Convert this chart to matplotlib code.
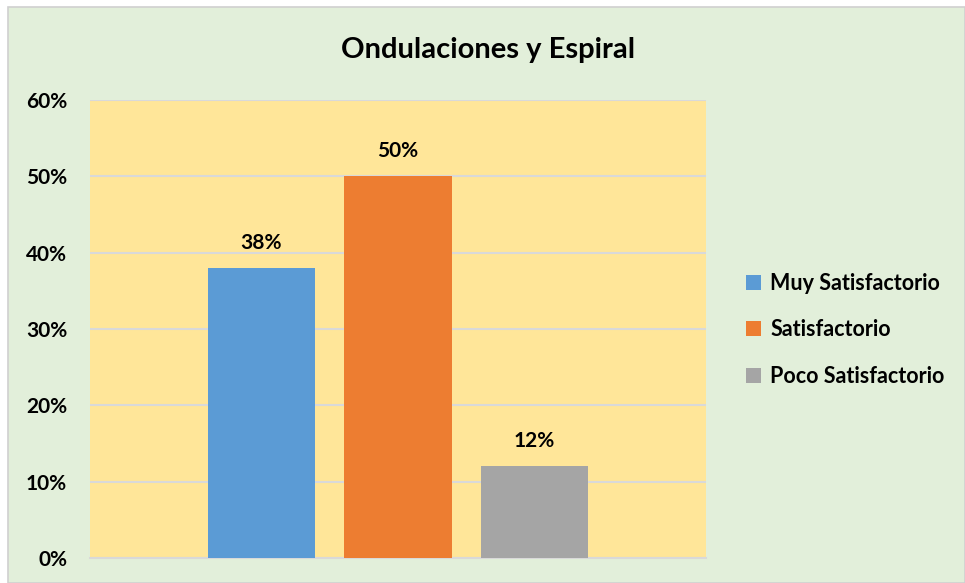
import matplotlib.pyplot as plt
from matplotlib.patches import Rectangle

series = ["Muy Satisfactorio", "Satisfactorio", "Poco Satisfactorio"]
values = [0.38, 0.50, 0.12]
colors = ["#5B9BD5", "#ED7D31", "#A5A5A5"]
yticks = [0, 0.1, 0.2, 0.3, 0.4, 0.5, 0.6]

plt.rcParams["font.family"] = ["Lato", "DejaVu Sans"]
plt.rcParams["font.weight"] = "bold"

fig = plt.figure(figsize=(9.65, 5.83), dpi=100)
fig.patch.set_facecolor("white")
# chart area with light border
fig.patches.append(Rectangle((8 / 965, 0), 1 - 8 / 965, 1 - 7 / 583,
                             transform=fig.transFigure, facecolor="#E2EFDA",
                             edgecolor="#D0D0D0", linewidth=1.2, zorder=-10))

ax = fig.add_axes([90 / 965, 1 - 558 / 583, 616 / 965, 458 / 583])
ax.set_facecolor("#FFE699")

xs = [-1, 0, 1]
bars = ax.bar(xs, values, width=0.79, color=colors, label=series, zorder=3)
for x, v in zip(xs, values):
    ax.text(x, v + 0.02, f"{v:.0%}", ha="center", va="bottom",
            fontsize=15, fontweight="bold")

ax.set_xlim(-2.256, 2.256)
ax.set_ylim(0, 0.6)
ax.set_yticks(yticks)
ax.set_yticklabels([f"{t:.0%}" for t in yticks], fontsize=15, fontweight="bold")
ax.set_xticks([])
ax.tick_params(axis="y", length=0, pad=16.5)
ax.yaxis.grid(True, color="#D9D9D9", linewidth=1.5, zorder=0)
ax.set_axisbelow(True)
for s in ["top", "right", "left"]:
    ax.spines[s].set_visible(False)
ax.spines["bottom"].set_color("#D9D9D9")
ax.spines["bottom"].set_linewidth(1.5)

fig.text(488 / 965, 1 - 50 / 583, "Ondulaciones y Espiral", ha="center",
         va="center", fontsize=21, fontweight="bold")

leg = fig.legend(bars, series, loc="center left",
                 bbox_to_anchor=(727 / 965, 1 - 330 / 583),
                 frameon=False, fontsize=15.5, handlelength=0.7,
                 handleheight=0.7, handletextpad=0.4, labelspacing=1.2)
for t in leg.get_texts():
    t.set_fontweight("bold")

fig.savefig("out.png", dpi=100)
